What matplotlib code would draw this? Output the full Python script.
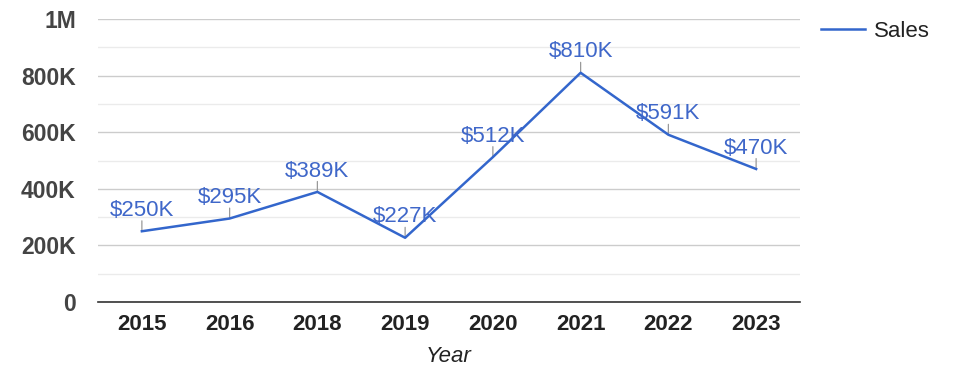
import matplotlib.pyplot as plt
from matplotlib.ticker import FixedLocator, FuncFormatter

years = ["2015", "2016", "2018", "2019", "2020", "2021", "2022", "2023"]
sales = [250000, 295000, 389000, 227000, 512000, 810000, 591000, 470000]
labels = ["$250K", "$295K", "$389K", "$227K", "$512K", "$810K", "$591K", "$470K"]
major_ticks = [0, 200000, 400000, 600000, 800000, 1000000]
minor_ticks = [100000, 300000, 500000, 700000, 900000]

plt.rcParams['font.family'] = ['Liberation Sans', 'DejaVu Sans']

fig = plt.figure(figsize=(9.75, 3.78), dpi=100)
ax = fig.add_axes([98 / 975, 1 - 302 / 378, 702 / 975, 283 / 378])

x = list(range(len(years)))
line, = ax.plot(x, sales, color="#3366cc", lw=1.8, label="Sales", zorder=3)

# annotations with little stems, Google-charts style
for xi, yi, lab in zip(x, sales, labels):
    ax.annotate("", xy=(xi, yi), xytext=(0, 7.5), textcoords="offset points",
                arrowprops=dict(arrowstyle="-", color="#999999", lw=0.9,
                                shrinkA=0, shrinkB=0), zorder=2)
    ax.annotate(lab, xy=(xi, yi), xytext=(0, 11), textcoords="offset points",
                ha="center", va="baseline", fontsize=16, color="#3f67c9", zorder=4)

ax.set_xlim(-0.5, len(years) - 0.5)
ax.set_ylim(0, 1000000)
ax.set_xticks(x)
ax.set_xticklabels(years, fontsize=16, fontweight="bold", color="#222222")
ax.yaxis.set_major_locator(FixedLocator(major_ticks))
ax.yaxis.set_minor_locator(FixedLocator(minor_ticks))
ax.yaxis.set_major_formatter(FuncFormatter(
    lambda v, p: "0" if v == 0 else ("1M" if v == 1000000 else f"{int(v / 1000)}K")))
for t in ax.get_yticklabels():
    t.set_fontsize(16.5)
    t.set_fontweight("bold")
    t.set_color("#444444")

ax.tick_params(axis="both", which="both", length=0)
ax.tick_params(axis="y", pad=16)
ax.tick_params(axis="x", pad=8.5)
ax.grid(axis="y", which="major", color="#cccccc", lw=1)
ax.grid(axis="y", which="minor", color="#ebebeb", lw=1)
ax.set_axisbelow(True)
for s in ["top", "right", "left"]:
    ax.spines[s].set_visible(False)
ax.spines["bottom"].set_color("#333333")
ax.spines["bottom"].set_linewidth(1.2)
ax.spines["bottom"].set_zorder(5)

ax.set_xlabel("Year", fontsize=16, style="italic", color="#222222", labelpad=8)

fig.legend(handles=[line], loc="upper left", bbox_to_anchor=(801 / 975, 1 - 1 / 378),
           frameon=False, fontsize=16, handlelength=2.0, handletextpad=0.4,
           labelcolor="#222222")

fig.savefig("out.png", dpi=100)
